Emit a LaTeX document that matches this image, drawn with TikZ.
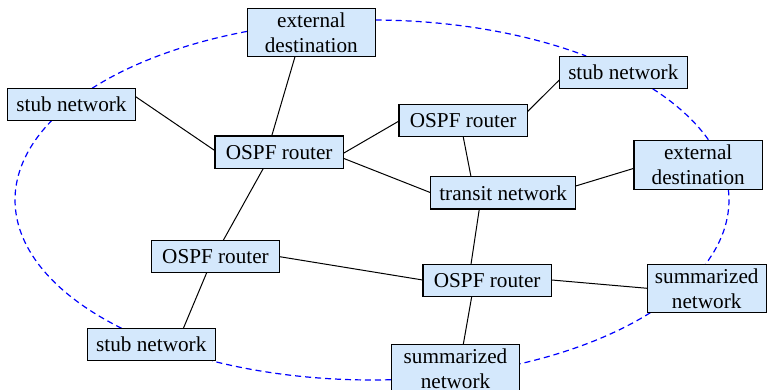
\documentclass[tikz,border=0pt]{standalone}
\usepackage{fontspec}
\setmainfont{Liberation Serif}
\usetikzlibrary{calc}
\definecolor{boxfill}{RGB}{212,232,252}
\begin{document}
\begin{tikzpicture}[x=0.75pt,y=-0.75pt,
  box/.style={draw=black, line width=0.8pt, fill=boxfill, minimum width=96.3pt, minimum height=24.3pt, inner sep=0pt, align=center, font=\fontsize{15.9}{19.05}\selectfont},
  tall/.style={minimum height=36.3pt},
  link/.style={draw=black, line width=0.75pt},
  ring/.style={draw=blue, line width=0.9pt, dash pattern=on 4.5pt off 3pt},
  ringarc/.style={ring, x radius=267.75pt, y radius=135pt}]
\useasboundingbox (0,0) rectangle (767,389);
\coordinate (ec) at (372,200);
% dashed ring connectors (drawn first, under the boxes)
\draw[ringarc] ($(ec)+(89.4:267.75pt and 135pt)$) arc[start angle=89.4, end angle=53.13];
\draw[ringarc] ($(ec)+(38.19:267.75pt and 135pt)$) arc[start angle=38.19, end angle=19.24];
\draw[ringarc] ($(ec)+(3.41:267.75pt and 135pt)$) arc[start angle=3.41, end angle=-20.93];
\draw[ringarc] ($(ec)+(-38.77:267.75pt and 135pt)$) arc[start angle=-38.77, end angle=-65.5];
\draw[ringarc] ($(ec)+(-86.95:267.75pt and 135pt)$) arc[start angle=-86.95, end angle=-116.6];
\draw[ringarc] ($(ec)+(-134.54:267.75pt and 135pt)$) arc[start angle=-134.54, end angle=-206.14];
\draw[ringarc] ($(ec)+(-218.36:267.75pt and 135pt)$) arc[start angle=-218.36, end angle=-249.5];
% boxes
\node[box,tall] (extT) at (311.3,32.5) {external\\destination};
\node[box] (stubL) at (71.5,104.5) {stub network};
\node[box] (ospfA) at (279.2,152.2) {OSPF router};
\node[box] (stubTR) at (623.3,72.3) {stub network};
\node[box] (ospfB) at (463.2,120.5) {OSPF router};
\node[box,tall] (extR) at (698.2,165) {external\\destination};
\node[box,minimum width=108.75pt] (transit) at (503.2,192.8) {transit network};
\node[box] (ospfC) at (215.5,256.5) {OSPF router};
\node[box] (stubBL) at (151.3,344.7) {stub network};
\node[box] (ospfD) at (487.2,280.5) {OSPF router};
\node[box,tall,minimum width=89pt] (summR) at (706.7,288.5) {summarized\\network};
\node[box,tall] (summB) at (455.5,368.5) {summarized\\network};
% links
\draw[link] ($(stubL)+(64.2,-7.8)$) -- ($(ospfA)+(-64.2,-1.5)$);
\draw[link] ($(extT)+(-16.3,24.2)$) -- ($(ospfA)+(-7.5,-16.2)$);
\draw[link] ($(ospfA)+(64.2,1.1)$) -- ($(ospfB)+(-64.2,0.5)$);
\draw[link] ($(ospfA)+(64.2,6.1)$) -- ($(transit)+(-72.5,-0.1)$);
\draw[link] ($(ospfB)+(64.2,-8.8)$) -- ($(stubTR)+(-64,7.7)$);
\draw[link] ($(ospfB)+(0,16.2)$) -- ($(transit)+(-32.2,-16.1)$);
\draw[link] ($(transit)+(72.5,-6.8)$) -- ($(extR)+(-64.2,3.3)$);
\draw[link] ($(transit)+(-23.9,16.2)$) -- ($(ospfD)+(-16.2,-16.2)$);
\draw[link] ($(ospfA)+(-15.9,16.2)$) -- ($(ospfC)+(7.8,-16.2)$);
\draw[link] ($(ospfC)+(-8.8,16.2)$) -- ($(stubBL)+(32,-16.2)$);
\draw[link] ($(ospfC)+(64.2,0.2)$) -- ($(ospfD)+(-64.5,-0.5)$);
\draw[link] ($(ospfD)+(64.5,-0.5)$) -- ($(summR)+(-59.4,-0.2)$);
\draw[link] ($(ospfD)+(-15.5,16.2)$) -- ($(summB)+(7.8,-24.2)$);
\end{tikzpicture}
\end{document}
